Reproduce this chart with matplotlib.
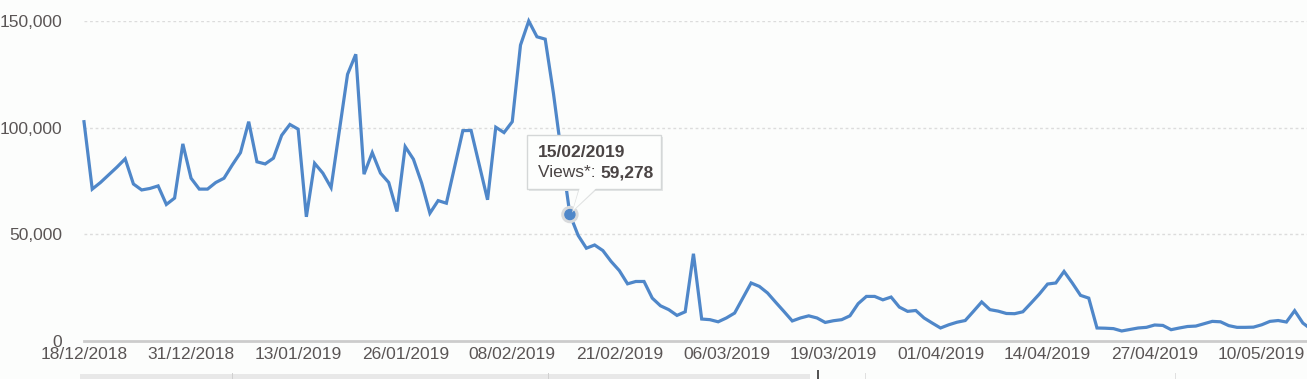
import numpy as np
import pandas as pd
import matplotlib
matplotlib.use('Agg')
import matplotlib.pyplot as plt
from matplotlib.patches import Circle, Polygon, Rectangle
from matplotlib.transforms import IdentityTransform

plt.rcParams['font.family'] = ['Liberation Sans', 'DejaVu Sans']

start_date = '2018-12-18'
views = [102800, 71200, 74300, 77900, 81500, 85400, 73600, 70800, 71500, 72700,
         64000, 67000, 92400, 76300, 71200, 71200, 74300, 76300, 82500, 88300,
         102800, 84000, 83000, 85700, 96400, 101500, 99300, 58200, 83300, 78700,
         71900, 98500, 125000, 134400, 78200, 88300, 78700, 74300, 60700, 91100,
         85200, 74000, 59900, 65800, 64600, 81700, 98600, 98700, 82500, 66200,
         100200, 97700, 102800, 138700, 150000, 142600, 141500, 116100, 87000, 59278,
         49500, 43500, 45000, 42400, 37300, 33000, 26800, 27900, 27900, 20100,
         16500, 14700, 12000, 13700, 40900, 10300, 10000, 9000, 10800, 13100,
         20100, 27200, 25600, 22500, 18100, 13800, 9400, 10800, 11800, 10800,
         8700, 9500, 10000, 11800, 17500, 20900, 20900, 19300, 20600, 15900,
         13900, 14300, 10800, 8400, 6100, 7600, 8800, 9600, 13900, 18300,
         14700, 14000, 12900, 12800, 13700, 17800, 22000, 26700, 27200, 32600,
         27200, 21400, 20100, 6100, 6000, 5800, 4700, 5400, 6100, 6400,
         7500, 7300, 5300, 6100, 6800, 7000, 8100, 9200, 9000, 7200,
         6400, 6400, 6500, 7600, 9200, 9600, 8900, 14200, 8400, 5500]
yticks = [0, 50000, 100000, 150000]
tick_step = 13
highlight = 59  # index of 15/02/2019

dates = pd.date_range(start_date, periods=len(views), freq='D')
x = np.arange(len(views))

W, H = 1307, 379
bg = '#fcfdfc'
fig = plt.figure(figsize=(W / 100, H / 100), dpi=100, facecolor=bg)
ax = fig.add_axes([84 / W, 38 / H, (W - 84) / W, (341 - 21) / H])
ax.set_facecolor(bg)

for yv in yticks[1:]:
    ax.axhline(yv, color='#dcdcdc', lw=1, ls=(0, (2, 2)), zorder=1)
ax.axhline(0, color='#cccccc', lw=2, zorder=2, clip_on=False)

ax.plot(x, views, color='#4f87c9', lw=2.3, zorder=3, clip_on=False,
        solid_joinstyle='miter')

ax.set_xlim(0, 148.5)
ax.set_ylim(0, 150000)
for s in ax.spines.values():
    s.set_visible(False)

ticks = x[::tick_step]
ax.set_xticks(ticks)
ax.set_xticklabels([d.strftime('%d/%m/%Y') for d in dates[::tick_step]])
ax.set_yticks(yticks)
ax.set_yticklabels(['{:,}'.format(v) for v in yticks])
ax.tick_params(axis='both', length=0, labelsize=12.5, labelcolor='#5a5555')
ax.tick_params(axis='x', pad=4)
ax.tick_params(axis='y', pad=15.5)

# tooltip
fig.canvas.draw()
px, py = ax.transData.transform((x[highlight], views[highlight]))
ident = IdentityTransform()
fig.patches.append(Circle((px, py), 8, transform=ident, color='#d8dadc', zorder=5, figure=fig))
fig.patches.append(Circle((px, py), 5, transform=ident, color='#4f87c9', zorder=6, figure=fig))

bx0, bx1 = px - 43, px + 91
by0, by1 = py + 26, py + 80
fig.patches.append(Rectangle((bx0 + 2, by0 - 2), bx1 - bx0, by1 - by0, transform=ident,
                             facecolor='#e4e6e6', edgecolor='none', zorder=6, figure=fig))
fig.patches.append(Polygon([(px + 9, by0 + 1), (px + 29, by0 + 1), (px + 2, py + 2)],
                           transform=ident, facecolor='#dfe1e1', edgecolor='none',
                           zorder=6, figure=fig))
fig.patches.append(Rectangle((bx0, by0), bx1 - bx0, by1 - by0, transform=ident,
                             facecolor='#fdfefd', edgecolor='#d4d7d7', lw=1,
                             zorder=7, figure=fig))
fig.patches.append(Polygon([(px + 10, by0 + 1), (px + 27, by0 + 1), (px + 3, py + 4)],
                           transform=ident, facecolor='#fdfefd', edgecolor='none',
                           zorder=8, figure=fig))

tc = '#4a4444'
fig.text((bx0 + 11) / W, (by1 - 18) / H, dates[highlight].strftime('%d/%m/%Y'),
         fontsize=12.5, fontweight='bold', color=tc, va='center', zorder=9)
t1 = fig.text((bx0 + 11) / W, (by1 - 38) / H, 'Views*: ', fontsize=12.5,
              color=tc, va='center', zorder=9)
fig.canvas.draw()
ext = t1.get_window_extent(fig.canvas.get_renderer())
fig.text(ext.x1 / W, (by1 - 38) / H, '{:,}'.format(views[highlight]), fontsize=12.5,
         fontweight='bold', color=tc, va='center', zorder=9)

# navigator strip at the bottom
fig.patches.append(Rectangle((80, 0), 730, 5, transform=ident, facecolor='#e8e8e8',
                             edgecolor='none', zorder=1, figure=fig))
for xv, c in [(232, '#d0d0d0'), (548, '#d0d0d0'), (865, '#e0e0e0'), (1175, '#e0e0e0')]:
    fig.patches.append(Rectangle((xv, 0), 1, 6, transform=ident, facecolor=c,
                                 edgecolor='none', zorder=2, figure=fig))
fig.patches.append(Rectangle((817, 0), 2, 9, transform=ident, facecolor='#555555',
                             edgecolor='none', zorder=2, figure=fig))

fig.savefig('out.png', dpi=100, facecolor=bg)
